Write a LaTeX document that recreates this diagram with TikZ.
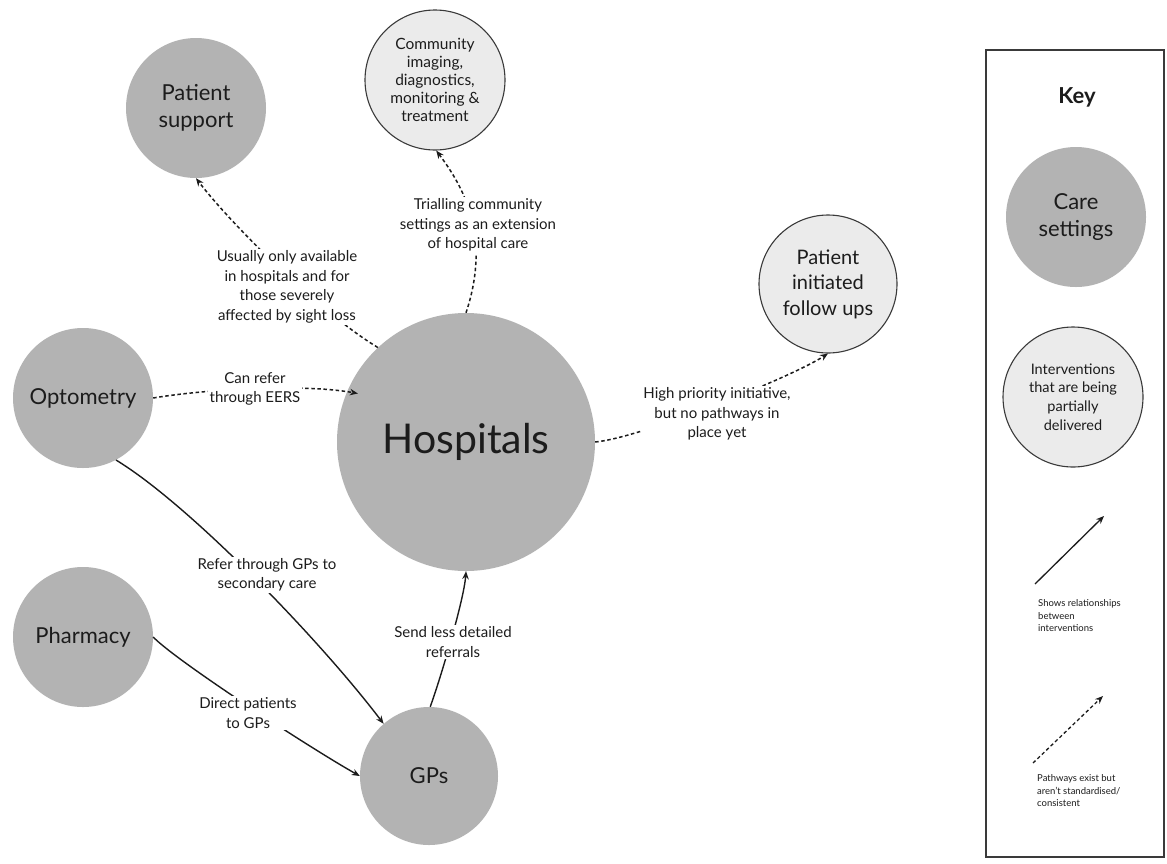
\documentclass[tikz,border=0pt]{standalone}
\usepackage{fontspec}
\setmainfont{Lato}
\usetikzlibrary{arrows.meta}
\definecolor{cgray}{HTML}{B3B3B3}
\definecolor{cpale}{HTML}{EBEBEB}
\definecolor{cink}{HTML}{1C1C1C}
\definecolor{cline}{HTML}{3A3A3A}
\begin{document}
\begin{tikzpicture}[x=1pt,y=-1pt,
  settingnode/.style={circle, fill=cgray, inner sep=0pt, minimum size=140pt, align=center, text=cink},
  partialnode/.style={circle, fill=cpale, draw=cline, line width=1.1pt, inner sep=0pt, minimum size=140pt, align=center, text=cink},
  lab/.style={fill=white, inner sep=1.5pt, align=center, text=cink, font=\fontsize{15}{19.5}\selectfont},
  keytext/.style={anchor=west, inner sep=0pt, align=left, text=cink, font=\fontsize{9.5}{12.5}\selectfont},
  pathway/.style={draw=cink, dash pattern=on 3.5pt off 2.6pt, line width=1.5pt, -{Stealth[length=8pt,width=6.5pt]}},
  rel/.style={draw=cink, line width=1.4pt, -{Stealth[length=8pt,width=6.5pt]}}
]
\useasboundingbox (0,0) rectangle (1167,863);
\fill[white] (0,0) rectangle (1167,863);

% care settings and interventions
\node[settingnode, minimum size=258pt, font=\fontsize{41}{46}\selectfont] (hosp) at (466,442) {Hospitals};
\node[settingnode, font=\fontsize{22}{27}\selectfont] (ps) at (196,108) {Patient\\support};
\node[partialnode, font=\fontsize{15.5}{17.8}\selectfont] (comm) at (435,80) {Community\\imaging,\\diagnostics,\\monitoring \&\\treatment};
\node[partialnode, minimum size=138pt, font=\fontsize{20}{25.5}\selectfont] (pi) at (828,284) {Patient\\initiated\\follow ups};
\node[settingnode, font=\fontsize{22}{27}\selectfont] (opt) at (83,398) {Optometry};
\node[settingnode, font=\fontsize{22}{27}\selectfont] (pharm) at (83,637) {Pharmacy};
\node[settingnode, minimum size=138pt, font=\fontsize{22}{27}\selectfont] (gps) at (429,776) {GPs};

% connectors
\draw[pathway] (hosp.133) .. controls (319,312) and (231,224) .. (ps.-90);
\draw[pathway] (hosp.90) .. controls (492,235) and (462,185) .. (comm.-89);
\draw[pathway, shorten >=-11pt] (opt.0) .. controls (200,390) and (300,383) .. (hosp.157);
\draw[pathway] (hosp.0) .. controls (640,438) and (790,378) .. (pi.-90);
\draw[rel] (opt.-62) .. controls (190,505) and (320,640) .. (gps.131);
\draw[rel] (pharm.0) .. controls (175,660) and (310,748) .. (gps.180);
\draw[rel] (gps.89) .. controls (440,680) and (464,600) .. (hosp.-90);

% connector labels
\node[lab] (l1) at (287,287) {Usually only available\\in hospitals and for\\those severely\\affected by sight loss};
\node[lab] (l2) at (478,225) {Trialling community\\settings as an extension\\of hospital care};
\node[lab] (l3) at (255,389) {Can refer\\through EERS};
\node[lab] (l4) at (717,414) {High priority initiative,\\but no pathways in\\place yet};
\node[lab] (l5) at (267,575) {Refer through GPs to\\secondary care};
\node[lab] (l6) at (248,713) {Direct patients\\to GPs};
\node[lab] (l7) at (453,642) {Send less detailed\\referrals};

% key
\draw[draw=cline, line width=1.2pt] (986,50) rectangle (1164,857);
\node[text=cink, font=\bfseries\fontsize{22}{26}\selectfont] (keytitle) at (1077,97) {Key};
\node[settingnode, font=\fontsize{22}{27}\selectfont] (keycare) at (1076,217) {Care\\settings};
\node[partialnode, font=\fontsize{14.5}{18.7}\selectfont] (keypart) at (1073,397) {Interventions\\that are being\\partially\\delivered};
\coordinate (k1s) at (1035,584);
\coordinate (k1e) at (1104,516);
\draw[rel, line width=1.3pt] (k1s) -- (k1e);
\node[keytext] (k1t) at (1038,616) {Shows relationships\\between\\interventions};
\coordinate (k2s) at (1033,763);
\coordinate (k2e) at (1103,696);
\draw[pathway, line width=1.3pt] (k2s) -- (k2e);
\node[keytext] (k2t) at (1037,791) {Pathways exist but\\aren't standardised/\\consistent};
\end{tikzpicture}
\end{document}
